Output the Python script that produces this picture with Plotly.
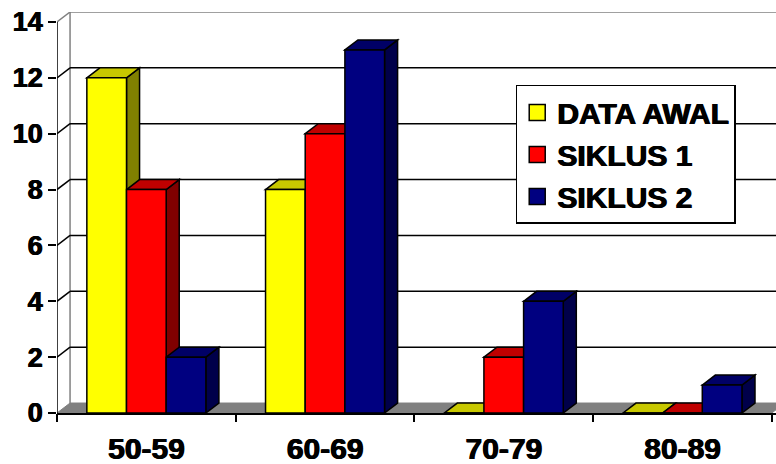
import plotly.graph_objects as go

# ---- data -------------------------------------------------------------
categories = ["50-59", "60-69", "70-79", "80-89"]
data_awal = [12, 8, 0, 0]
siklus_1 = [8, 10, 2, 0]
siklus_2 = [2, 13, 4, 1]
y_ticks = [0, 2, 4, 6, 8, 10, 12, 14]

# name, values, front colour, top colour, side colour
series = [
    ("DATA AWAL", data_awal, "#FFFF00", "#C8C800", "#808000"),
    ("SIKLUS 1", siklus_1, "#FF0000", "#C00000", "#800000"),
    ("SIKLUS 2", siklus_2, "#000080", "#000066", "#00004A"),
]

# ---- 3-D look parameters (axis units) ---------------------------------
DX = 0.073        # depth offset along x (category units)
DY = 0.357        # depth offset along y (value units)
BAR_W = 0.222     # width of one bar
GROUP_START = -0.333
X0, X1 = -0.5, 3.5
X_END = 3.5235
Y_TOP = max(y_ticks) + DY
FONT = "Arial, Liberation Sans, sans-serif"
HEAVY = "0.7px 0 0 black, -0.4px 0 0 black"   # thickens the bold strokes
GRAY = "#808080"


def label_font(size):
    return dict(family=FONT, size=size, color="black", weight="bold",
                shadow=HEAVY)


fig = go.Figure()
shapes = []


def poly(points, fill, line="black", width=1.5):
    path = "M " + " L ".join(f"{x},{y}" for x, y in points) + " Z"
    return dict(type="path", path=path, xref="x", yref="y", layer="below",
                fillcolor=fill, line=dict(color=line, width=width))


def seg(x0, y0, x1, y1, color, width=1.5):
    return dict(type="line", x0=x0, y0=y0, x1=x1, y1=y1, xref="x", yref="y",
                layer="below", line=dict(color=color, width=width))


# back wall: left edge, top edge and grid lines
shapes.append(seg(X0 + DX, DY, X0 + DX, max(y_ticks) + DY, GRAY))
for v in y_ticks[1:]:
    col = GRAY if v == max(y_ticks) else "black"
    shapes.append(seg(X0, v, X0 + DX, v + DY, col))
    shapes.append(seg(X0 + DX, v + DY, X_END + 0.1, v + DY, col))

# floor
shapes.append(poly([(X0, 0), (X1, 0), (X1 + DX, DY), (X0 + DX, DY)], GRAY,
                   line=GRAY, width=1))

# front value axis line
shapes.append(seg(X0, 0, X0, max(y_ticks), "black"))

# bars: front faces as bar traces, sides and tops as shapes
for i in range(len(categories)):
    for j, (name, vals, c_front, c_top, c_side) in enumerate(series):
        v = vals[i]
        left = i + GROUP_START + j * BAR_W
        right = left + BAR_W
        if v > 0:
            shapes.append(poly([(right, 0), (right + DX, DY),
                                (right + DX, v + DY), (right, v)], c_side))
        shapes.append(poly([(left, v), (left + DX, v + DY),
                            (right + DX, v + DY), (right, v)], c_top))

for j, (name, vals, c_front, c_top, c_side) in enumerate(series):
    fig.add_trace(go.Bar(
        x=list(range(len(categories))), y=vals, name=name,
        width=BAR_W, offset=GROUP_START + j * BAR_W,
        marker=dict(color=c_front, line=dict(color="black", width=1.5)),
        legendgroup=name, showlegend=False,
    ))

# legend keys (larger square swatches than the default bar key)
for name, vals, c_front, c_top, c_side in series:
    fig.add_trace(go.Scatter(
        x=[None], y=[None], name=name, mode="markers", legendgroup=name,
        marker=dict(symbol="square", size=16, color=c_front,
                    line=dict(color="black", width=1.5)),
    ))

# invisible trace carrying the boundary tick marks of the category axis
fig.add_trace(go.Scatter(x=[X0, X1], y=[0, 0], xaxis="x2", mode="none",
                         showlegend=False, hoverinfo="skip"))

fig.update_layout(
    width=776, height=464, autosize=False,
    margin=dict(l=57, r=0, t=12, b=51, pad=0),
    paper_bgcolor="white", plot_bgcolor="rgba(0,0,0,0)",
    barmode="overlay",
    shapes=shapes,
    font=dict(family=FONT, color="black"),
    xaxis=dict(range=[X0, X_END], tickvals=list(range(len(categories))),
               ticktext=categories, ticks="", automargin=False,
               showgrid=False, zeroline=False,
               showline=True, linecolor="black", linewidth=1.5,
               ticklabelstandoff=8, tickfont=label_font(30)),
    xaxis2=dict(range=[X0, X_END], overlaying="x", side="bottom", anchor="y",
                tickvals=[X0 + k for k in range(len(categories) + 1)],
                showticklabels=False, ticks="outside", ticklen=8,
                tickwidth=1.5, tickcolor="black", showgrid=False,
                zeroline=False, showline=False, automargin=False),
    yaxis=dict(range=[0, Y_TOP], tickvals=y_ticks, automargin=False,
               ticks="outside", ticklen=8,
               tickwidth=1.5, tickcolor="black", showgrid=False,
               zeroline=False, showline=False, tickfont=label_font(27)),
    legend=dict(x=0.638, y=0.818, xanchor="left", yanchor="top",
                bgcolor="white", bordercolor="black", borderwidth=1.5,
                traceorder="grouped", tracegroupgap=0,
                font=label_font(30)),
)

fig.write_html("out.html")
